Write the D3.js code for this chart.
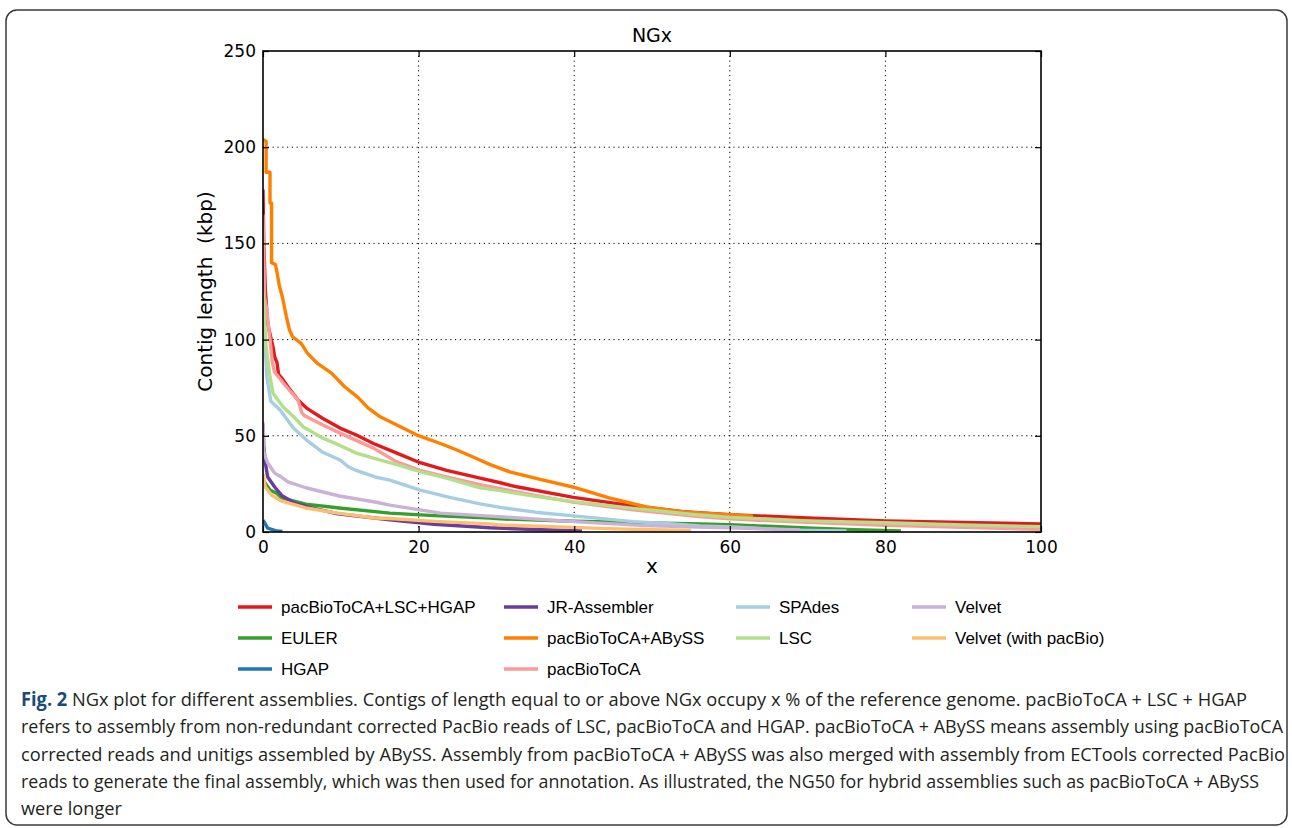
<!DOCTYPE html>
<html>
<head>
<meta charset="utf-8">
<script src="https://cdn.jsdelivr.net/npm/d3@7"></script>
<style>
  body { margin: 0; background: #fff; }
  svg { display: block; }
</style>
</head>
<body>
<svg id="fig" width="1292" height="828"></svg>
<script>
// NGx curves: [x %, contig length kbp]
var hybridLSCHGAP = [[0,178],[0.1,150],[0.3,126],[0.6,108],[0.9,103],[1.3,96],[1.5,91],[1.8,88],[2.0,82],[2.4,80],[3.2,75.5],[4.5,68.6],[5.6,64.4],[7.7,59],[9.9,54],[12,50.4],[14.2,46],[17.2,41],[20.2,36],[23.6,32],[27.9,28],[30.5,25.6],[32.6,23.5],[39.9,18],[47.6,13.5],[54,10.6],[60,9],[70,7.3],[80,5.8],[90,5],[100,4.2]];
var euler = [[0,27],[0.9,21.8],[1.8,20],[2.4,17.7],[5.5,14.5],[9.8,12.5],[14.4,10.6],[16.3,9.8],[22,8.5],[29.2,7.2],[30.5,6.8],[40,5.6],[47,5],[56.2,4.2],[60,3.8],[70.7,2],[76,1.2],[82,0.6]];
var hgap = [[0,6.2],[0.6,2],[1.8,0.5],[2.5,0.3]];
var jrAssembler = [[0,56],[0.1,45],[0.3,36],[0.6,28.6],[1.5,23.4],[2.4,19],[4.1,15],[6,12.8],[9.6,9.5],[16,6.5],[22,4],[29.2,2.2],[35,1.3],[41,0.6]];
var hybridABySS = [[0,204],[0.4,203],[0.4,187],[0.9,187],[0.9,171],[1.1,171],[1.1,140],[1.6,139],[1.8,135],[2.1,128],[2.5,122],[3.0,112],[3.4,105],[3.8,101.5],[4.9,98],[5.7,93],[7,87.6],[8.8,82.6],[10.5,75.5],[12.2,70],[13.5,64.5],[15,60],[17.2,55.6],[19.8,50.4],[22.8,46],[25,42.5],[27,39],[29.2,35],[31.7,31.3],[35.5,27.5],[39.8,23.4],[44.5,17.7],[49.3,13],[54.1,10.4],[60.3,8.8],[63,8.2]];
var pacBioToCA = [[0,165],[0.2,122],[0.5,115],[0.9,100],[1.2,88],[1.5,83],[1.8,81.6],[3.0,75.5],[4.5,68.6],[5.0,62],[5.3,60.5],[7.7,55.6],[9.9,51.4],[14.2,43.6],[17.2,36.4],[20.2,32],[23.6,28.6],[27.9,24.6],[30.5,22.5],[35,19],[39.8,15.5],[47.6,11.5],[56,8],[60,6.8],[70,5],[80,3.5],[90,2.4],[100,1.4]];
var spades = [[0,110],[0.3,95],[0.5,80.6],[1.0,68],[2.2,63.4],[3.0,59],[3.9,54],[5.6,47.8],[7.6,41.6],[9.9,37.4],[11,33.8],[12,32],[14.4,28.6],[16.3,27],[20.2,21.8],[24,18],[27.9,14.6],[30.5,12.8],[35,10.3],[39.9,8.4],[47.6,5.4],[51.7,4.5],[56.2,3.2],[61,2.5],[66.5,1.2],[70,0.8],[75,0.5]];
var lsc = [[0,125],[0.2,110],[0.4,96],[0.9,80.6],[1.3,72],[2.6,65],[3.9,60],[5.2,54.6],[7.7,48.7],[9.9,45],[12,41],[14.2,38.4],[17.2,35],[20.2,31.4],[23.6,28],[27.9,23],[30.5,21.5],[35,18.5],[39.9,15.8],[47.6,12.3],[56.2,8.8],[60,7.6],[70,5.8],[80,4.8],[90,3.6],[100,2.8]];
var velvet = [[0,57],[0.1,42],[0.3,39],[0.6,36],[1.5,30.6],[2.2,29],[3.2,26],[5.5,23],[9.8,18.7],[14.4,15.6],[16.3,14],[22.8,9.8],[28,8.5],[31,7.8],[40,5.4],[49,3.3],[56,2.6],[60,2.2],[65,1.6],[69,1.1]];
var velvetPacBio = [[0,30],[0.3,23.4],[1.1,19.2],[2.4,16],[5.5,12.5],[9.6,9.8],[14.4,7.3],[16.3,7],[22,5.5],[29.2,4.2],[30.5,3.6],[40,2.4],[43,1.9],[50,1.2],[55,0.8]];

var seriesNames = ["pacBioToCA+LSC+HGAP", "EULER", "HGAP", "JR-Assembler", "pacBioToCA+ABySS",
                   "pacBioToCA", "SPAdes", "LSC", "Velvet", "Velvet (with pacBio)"];
var seriesData = [hybridLSCHGAP, euler, hgap, jrAssembler, hybridABySS, pacBioToCA, spades, lsc, velvet, velvetPacBio];
var seriesColors = ["#e31a1c", "#33a02c", "#1f78b4", "#6a3d9a", "#ff7f00", "#fb9a99", "#a6cee3", "#b2df8a", "#cab2d6", "#fdbf6f"];

var xTicks = [0, 20, 40, 60, 80, 100];
var yTicks = [0, 50, 100, 150, 200, 250];

var captionLines = [
  ["Fig. 2", " NGx plot for different assemblies. Contigs of length equal to or above NGx occupy x % of the reference genome. pacBioToCA + LSC + HGAP"],
  ["", "refers to assembly from non-redundant corrected PacBio reads of LSC, pacBioToCA and HGAP. pacBioToCA + ABySS means assembly using pacBioToCA"],
  ["", "corrected reads and unitigs assembled by ABySS. Assembly from pacBioToCA + ABySS was also merged with assembly from ECTools corrected PacBio"],
  ["", "reads to generate the final assembly, which was then used for annotation. As illustrated, the NG50 for hybrid assemblies such as pacBioToCA + ABySS"],
  ["", "were longer"]
];
var captionWidths = [1226, 1262, 1264, 1238, 101];

var svg = d3.select("#fig");

// rounded frame round figure + caption
svg.append("rect")
  .attr("x", 6).attr("y", 10).attr("width", 1281).attr("height", 815)
  .attr("rx", 11).attr("ry", 11)
  .attr("fill", "none").attr("stroke", "#3a3a3a").attr("stroke-width", 1.5);

var pLeft = 263, pRight = 1041, pTop = 51, pBottom = 532;

var x = d3.scaleLinear().domain([0, 100]).range([pLeft, pRight]);
var y = d3.scaleLinear().domain([0, 250]).range([pBottom, pTop]);

var plot = svg.append("g");

// dotted grid
plot.append("g").selectAll("line").data(xTicks.slice(1, -1)).enter().append("line")
  .attr("x1", d => x(d)).attr("x2", d => x(d)).attr("y1", pTop).attr("y2", pBottom)
  .attr("stroke", "#000").attr("stroke-width", 1).attr("stroke-dasharray", "1.2,3.6");
plot.append("g").selectAll("line").data(yTicks.slice(1, -1)).enter().append("line")
  .attr("y1", d => y(d)).attr("y2", d => y(d)).attr("x1", pLeft).attr("x2", pRight)
  .attr("stroke", "#000").attr("stroke-width", 1).attr("stroke-dasharray", "1.2,3.6");

svg.append("clipPath").attr("id", "clip").append("rect")
  .attr("x", pLeft).attr("y", pTop).attr("width", pRight - pLeft).attr("height", pBottom - pTop);

var line = d3.line().x(d => x(d[0])).y(d => y(d[1]));

plot.append("g").attr("clip-path", "url(#clip)")
  .selectAll("path").data(seriesData).enter().append("path")
  .attr("d", line)
  .attr("fill", "none")
  .attr("stroke", (d, i) => seriesColors[i])
  .attr("stroke-width", 3.4)
  .attr("stroke-linejoin", "round");

// axes: labels outside, ticks drawn inward on all four sides
var fontAxis = "'DejaVu Sans', sans-serif";
var xAxis = d3.axisBottom(x).tickValues(xTicks).tickSize(-6).tickPadding(9);
var yAxis = d3.axisLeft(y).tickValues(yTicks).tickSize(-6).tickPadding(12);
var gx = svg.append("g").attr("transform", "translate(0," + pBottom + ")").call(xAxis);
var gy = svg.append("g").attr("transform", "translate(" + pLeft + ",0)").call(yAxis);
svg.append("g").attr("transform", "translate(0," + pTop + ")")
  .call(d3.axisTop(x).tickValues(xTicks).tickSize(-6).tickFormat(""));
svg.append("g").attr("transform", "translate(" + pRight + ",0)")
  .call(d3.axisRight(y).tickValues(yTicks).tickSize(-6).tickFormat(""));
svg.selectAll(".domain").remove();
svg.selectAll(".tick line").attr("stroke", "#000").attr("stroke-width", 1.2);
[gx, gy].forEach(g => g.selectAll("text").attr("font-family", fontAxis).attr("font-size", 17).attr("fill", "#000"));
gx.selectAll("text").attr("dy", "0.71em");
gy.selectAll("text").attr("dx", "5");

svg.append("rect")
  .attr("x", pLeft).attr("y", pTop).attr("width", pRight - pLeft).attr("height", pBottom - pTop)
  .attr("fill", "none").attr("stroke", "#000").attr("stroke-width", 1.6);

svg.append("text").attr("x", (pLeft + pRight) / 2).attr("y", 42)
  .attr("text-anchor", "middle").attr("font-family", fontAxis).attr("font-size", 19)
  .text("NGx");
svg.append("text").attr("x", (pLeft + pRight) / 2).attr("y", 573)
  .attr("text-anchor", "middle").attr("font-family", fontAxis).attr("font-size", 20)
  .text("x");
svg.append("text")
  .attr("transform", "translate(212," + (pTop + pBottom) / 2 + ") rotate(-90)")
  .attr("text-anchor", "middle").attr("font-family", fontAxis).attr("font-size", 20)
  .attr("xml:space", "preserve")
  .text("Contig length  (kbp)");

// legend, filled column by column (4 columns)
var legendTextX = [281, 547, 779, 955];
var legendRowY = [607, 638, 669];
var legend = svg.append("g").selectAll("g").data(seriesNames).enter().append("g")
  .attr("transform", function (d, i) {
    var col = [0, 0, 0, 1, 1, 1, 2, 2, 3, 3][i];
    var row = [0, 1, 2, 0, 1, 2, 0, 1, 0, 1][i];
    return "translate(" + legendTextX[col] + "," + legendRowY[row] + ")";
  });
legend.append("line").attr("x1", -43).attr("x2", -9).attr("y1", 0).attr("y2", 0)
  .attr("stroke", (d, i) => seriesColors[i]).attr("stroke-width", 3.5);
legend.append("text").attr("x", 0).attr("y", 6)
  .attr("font-family", "'Liberation Sans', Arial, sans-serif").attr("font-size", 17)
  .text(d => d);

// caption: condensed look, squeezed horizontally
var squeeze = 0.84;
var cap = svg.append("g").attr("transform", "translate(21,0) scale(" + squeeze + ",1)")
  .selectAll("text").data(captionLines).enter().append("text")
  .attr("x", 0).attr("y", (d, i) => 706 + i * 27.3)
  .attr("font-family", "'Open Sans', sans-serif").attr("font-size", 19).attr("fill", "#231f20")
  .attr("textLength", (d, i) => captionWidths[i] / squeeze).attr("lengthAdjust", "spacingAndGlyphs")
  .attr("xml:space", "preserve");
cap.append("tspan").attr("font-weight", "bold").attr("fill", "#1a4b7a").text(d => d[0]);
cap.append("tspan").text(d => d[1]);
</script>
</body>
</html>
